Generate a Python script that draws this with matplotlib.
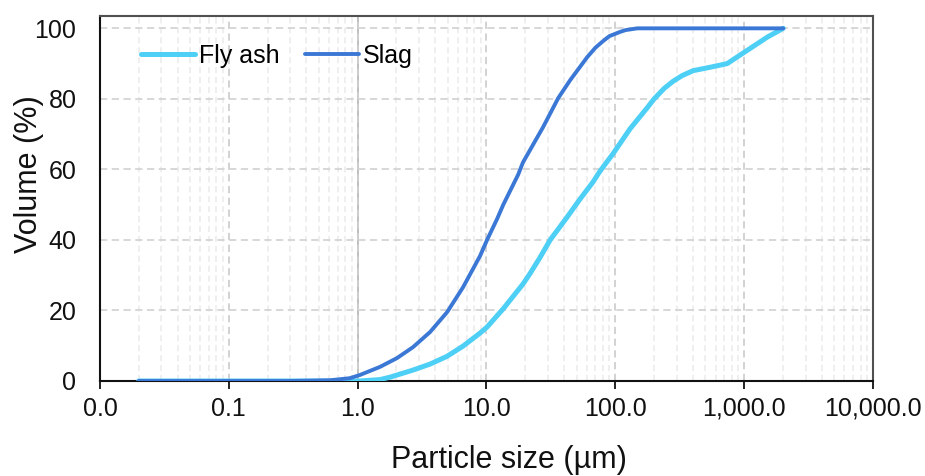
import matplotlib
matplotlib.use("Agg")
import matplotlib.pyplot as plt
from matplotlib.ticker import FixedLocator, FuncFormatter, NullFormatter

plt.rcParams['font.family'] = ['Liberation Sans', 'DejaVu Sans']

# particle size (um) and cumulative volume (%)
slag_size = [0.02, 0.1, 0.3, 0.61, 0.87, 1.04, 1.49, 2.02, 2.69, 3.65, 4.94, 6.58,
             8.92, 10.1, 12.1, 13.5, 17.6, 19.2, 27.5, 36.0, 44.6, 60.4, 70.0,
             80.4, 90.0, 109, 120, 148, 500, 2010]
slag_vol = [0, 0, 0, 0.2, 0.8, 1.7, 4.0, 6.5, 9.6, 13.9, 19.5, 26.6,
            35.5, 40.0, 46.0, 50.0, 58.5, 62.0, 72.0, 80.2, 85.3, 91.8, 94.5,
            96.4, 97.8, 99.0, 99.5, 100, 100, 100]

fly_size = [0.02, 0.1, 0.3, 0.6, 1.04, 1.49, 1.79, 2.69, 3.65, 4.94, 6.58, 8.92,
            10.1, 13.5, 16.1, 19.2, 21.8, 26.0, 31.2, 42.3, 53.0, 67.3, 76.0, 96.2,
            130, 177, 200, 240, 281, 330, 402, 550, 738, 982, 1510, 2010]
fly_vol = [0, 0, 0, 0, 0, 0.4, 1.1, 3.1, 4.8, 7.0, 9.9, 13.6,
           15.3, 20.5, 24.0, 27.5, 30.5, 35.0, 40.0, 46.5, 51.5, 56.5, 59.5, 64.5,
           71.5, 77.5, 80.0, 83.0, 85.0, 86.6, 88.0, 89.0, 90.0, 93.0, 97.5, 100]

x_ticks = [0.01, 0.1, 1, 10, 100, 1000, 10000]
y_ticks = [0, 20, 40, 60, 80, 100]


def main():
    fig = plt.figure(figsize=(9.25, 4.76), dpi=100)
    ax = fig.add_axes([100 / 925, 1 - 381 / 476, 773 / 925, 365 / 476])

    ax.set_xscale('log')
    ax.set_xlim(0.01, 10000)
    ax.set_ylim(0, 103.5)

    # grid: dashed, minor verticals lighter
    ax.xaxis.set_major_locator(FixedLocator(x_ticks))
    ax.xaxis.set_minor_locator(FixedLocator(
        [m * 10.0 ** e for e in range(-2, 4) for m in range(2, 10)]))
    ax.xaxis.set_minor_formatter(NullFormatter())
    ax.set_yticks(y_ticks)
    ax.grid(True, which='major', axis='y', color='#d4d4d4', lw=1.3, ls=(0, (4, 2.5)))
    ax.grid(True, which='major', axis='x', color='#cfcfcf', lw=1.3, ls=(0, (4, 2.5)))
    ax.grid(True, which='minor', axis='x', color='#ebebeb', lw=1.1, ls=(0, (4, 2.5)))
    ax.axvline(1, color='#bfbfbf', lw=1.4, zorder=1.5)

    ax.plot(fly_size, fly_vol, color='#4dcff6', lw=3.6, label='Fly ash',
            solid_capstyle='round', solid_joinstyle='round', zorder=3)
    ax.plot(slag_size, slag_vol, color='#3b78d6', lw=2.8, label='Slag',
            solid_capstyle='round', solid_joinstyle='round', zorder=4)

    ax.xaxis.set_major_formatter(FuncFormatter(lambda v, p: f"{v:,.1f}"))
    ax.tick_params(axis='x', which='major', direction='out', length=5.5, width=1.3,
                   pad=6, labelsize=18, colors='#111111')
    ax.tick_params(axis='x', which='minor', length=0)
    ax.tick_params(axis='y', length=0, pad=17, labelsize=18, colors='#111111')

    for side in ('left', 'bottom'):
        ax.spines[side].set_color('#111111')
        ax.spines[side].set_linewidth(1.5)
    for side in ('top', 'right'):
        ax.spines[side].set_color('#505050')
        ax.spines[side].set_linewidth(1.5)

    ax.legend(loc='center left', bbox_to_anchor=(41 / 773, 0.89), ncol=2,
              frameon=False, fontsize=18, handlelength=2.16, handletextpad=0.16,
              columnspacing=1.0, borderpad=0, borderaxespad=0)

    fig.text(509 / 925, 1 - 468 / 476, "Particle size (\u00b5m)", fontsize=22,
             ha='center', va='baseline', color='#111111')
    fig.text(29 / 925, 1 - 174 / 476, "Volume (%)", fontsize=22, rotation=90,
             ha='center', va='center', color='#111111')

    fig.savefig("out.png", dpi=100)


if __name__ == "__main__":
    main()
